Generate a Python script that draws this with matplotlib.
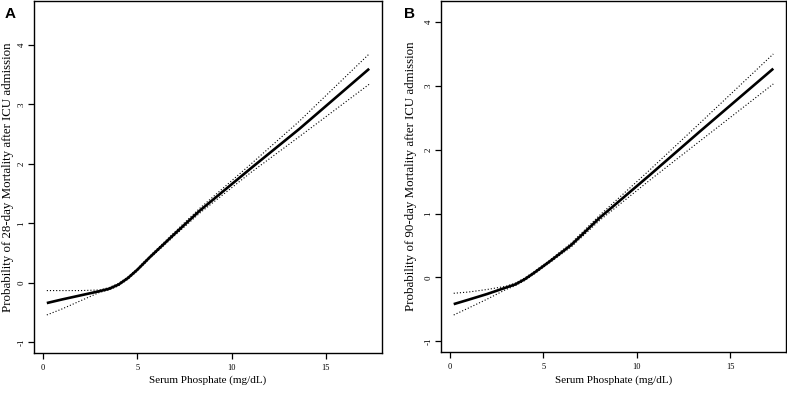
import matplotlib
matplotlib.use("Agg")
import matplotlib.pyplot as plt

# Panel A: 28-day mortality
xa = [0.2, 1, 2, 3, 3.5, 4, 4.5, 5, 5.66, 7, 8.3, 11, 13.6, 17.3]
fit_a = [-0.34, -0.28, -0.21, -0.14, -0.10, -0.03, 0.08, 0.22, 0.43, 0.83, 1.21, 1.92, 2.59, 3.60]
upper_a = [-0.13, -0.13, -0.13, -0.12, -0.08, -0.01, 0.10, 0.24, 0.45, 0.86, 1.25, 1.99, 2.72, 3.85]
lower_a = [-0.54, -0.44, -0.30, -0.16, -0.12, -0.05, 0.06, 0.20, 0.41, 0.80, 1.17, 1.85, 2.46, 3.34]

# Panel B: 90-day mortality
xb = [0.2, 1, 2, 3, 3.5, 4, 4.5, 5.34, 6.5, 8, 10.68, 13.35, 17.3]
fit_b = [-0.42, -0.35, -0.26, -0.16, -0.11, -0.03, 0.07, 0.25, 0.51, 0.93, 1.60, 2.28, 3.27]
upper_b = [-0.25, -0.23, -0.19, -0.14, -0.09, -0.01, 0.09, 0.27, 0.54, 0.97, 1.68, 2.41, 3.50]
lower_b = [-0.59, -0.48, -0.34, -0.19, -0.13, -0.05, 0.05, 0.23, 0.48, 0.89, 1.52, 2.13, 3.03]

xticks = [0, 5, 10, 15]
yticks = [-1, 0, 1, 2, 3, 4]
xlabel = "Serum Phosphate (mg/dL)"
ylabel_a = "Probability of 28-day Mortality after ICU admission"
ylabel_b = "Probability of 90-day Mortality after ICU admission"

W, H = 787, 395
fig = plt.figure(figsize=(W / 100, H / 100), dpi=100)
serif = "Liberation Serif"


def make_ax(l, r, t, b):
    return fig.add_axes([l / W, 1 - b / H, (r - l) / W, (b - t) / H])


def draw(ax, x, fit, up, lo, ylim, ylabel, ylab_x, letter, letter_x, l, r, t, b):
    ax.plot(x, fit, color="black", lw=1.9, solid_capstyle="butt")
    ax.plot(x, up, color="black", lw=0.8, linestyle=(0, (1, 1.8)))
    ax.plot(x, lo, color="black", lw=0.8, linestyle=(0, (1, 1.8)))
    ax.set_xlim(-0.48, 17.98)
    ax.set_ylim(*ylim)
    ax.set_xticks(xticks)
    ax.set_yticks(yticks)
    ax.set_xticklabels([str(v) for v in xticks], fontfamily=serif, fontsize=6)
    ax.set_yticklabels([str(v) for v in yticks], fontfamily=serif, fontsize=6.5,
                       rotation=90, va="center")
    ax.tick_params(direction="out", length=4, width=0.9)
    ax.tick_params(axis="x", pad=4)
    ax.tick_params(axis="y", pad=2)
    for s in ax.spines.values():
        s.set_linewidth(1.0)
    fig.text((l + r) / 2 / W, 1 - 380 / H, xlabel, fontfamily=serif,
             fontsize=8, ha="center", va="center")
    fig.text(ylab_x / W, 1 - (t + b) / 2 / H, ylabel, fontfamily=serif,
             fontsize=9.3, ha="center", va="center", rotation=90)
    fig.text(letter_x / W, 1 - 13.5 / H, letter, fontfamily="Liberation Sans",
             fontweight="bold", fontsize=11, ha="center", va="center")


ax_a = make_ax(34, 382, 1, 353)
draw(ax_a, xa, fit_a, upper_a, lower_a, (-1.18, 4.74), ylabel_a, 8, "A", 10,
     34, 382, 1, 353)

ax_b = make_ax(441, 786, 1, 352)
draw(ax_b, xb, fit_b, upper_b, lower_b, (-1.17, 4.33), ylabel_b, 411, "B", 409,
     441, 786, 1, 352)

fig.savefig("out.png", dpi=100)
